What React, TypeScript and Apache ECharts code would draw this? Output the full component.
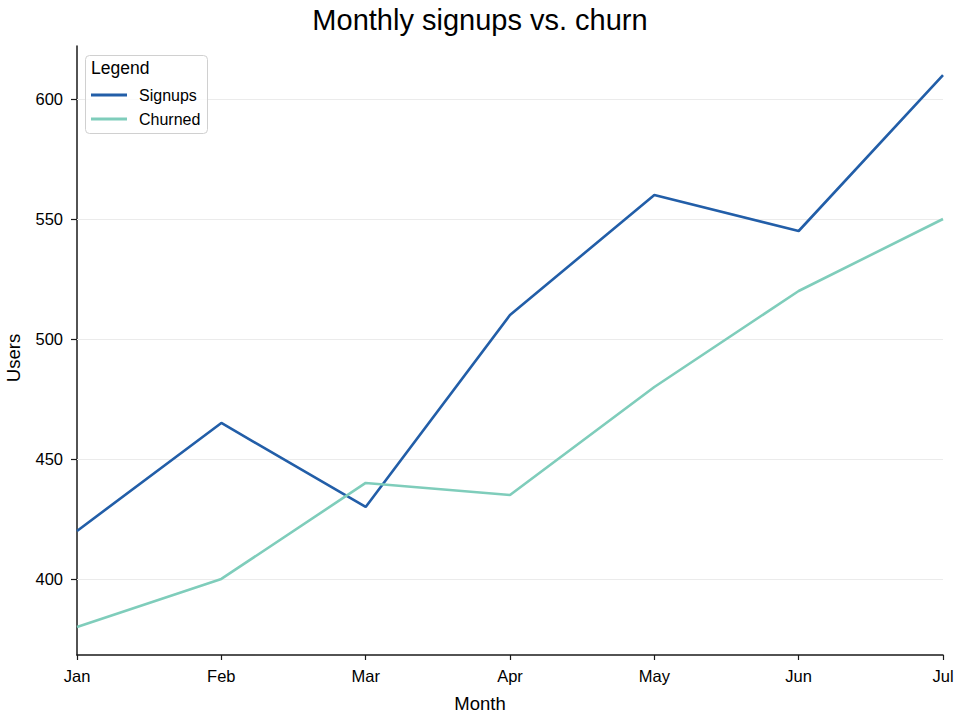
import { useEffect, useRef } from "react";
import * as echarts from "echarts";

const months = ["Jan", "Feb", "Mar", "Apr", "May", "Jun", "Jul"];
const signups = [420, 465, 430, 510, 560, 545, 610];
const churned = [380, 400, 440, 435, 480, 520, 550];
const yTicks = [400, 450, 500, 550, 600];

const FONT = "Liberation Sans, Arial, sans-serif";

export default function App() {
  const divRef = useRef<HTMLDivElement>(null);

  useEffect(() => {
    if (!divRef.current) return;
    const chart = echarts.init(divRef.current, undefined, { renderer: "svg" });

    const axisColor = "#1a1a1a";

    chart.setOption({
      animation: false,
      backgroundColor: "#ffffff",
      textStyle: { fontFamily: FONT },
      title: {
        text: "Monthly signups vs. churn",
        left: "center",
        top: 0,
        textStyle: { fontFamily: FONT, fontSize: 29, fontWeight: "normal", color: "#000" },
      },
      grid: { left: 77, right: 17, top: 46, bottom: 65, containLabel: false },
      legend: {
        orient: "vertical",
        left: 91,
        top: 87,
        padding: 0,
        z: 10,
        icon: "rect",
        itemWidth: 36,
        itemHeight: 3,
        itemGap: 8,
        data: ["Signups", "Churned"],
        textStyle: { fontFamily: FONT, fontSize: 16, color: "#000", lineHeight: 16, padding: [0, 0, 0, 7] },
      },
      xAxis: {
        type: "category",
        data: months,
        boundaryGap: false,
        axisLine: { lineStyle: { color: axisColor, width: 1.5 } },
        axisTick: { show: true, length: 5, alignWithLabel: true, lineStyle: { color: axisColor, width: 1.2 } },
        axisLabel: { fontFamily: FONT, fontSize: 16.5, color: "#000", margin: 12 },
        splitLine: { show: false },
      },
      yAxis: {
        type: "value",
        min: 368.3,
        max: 622.1,
        axisLine: { show: true, lineStyle: { color: axisColor, width: 1.5 } },
        axisTick: { show: true, length: 6, customValues: yTicks, lineStyle: { color: axisColor, width: 1.2 } },
        axisLabel: { fontFamily: FONT, fontSize: 16.5, color: "#000", margin: 14, customValues: yTicks },
        splitLine: { show: false },
      },
      series: [
        {
          name: "Signups",
          type: "line",
          data: signups,
          symbol: "none",
          color: "#225ea8",
          lineStyle: { width: 2.6, color: "#225ea8" },
          z: 3,
          markLine: {
            silent: true,
            symbol: "none",
            label: { show: false },
            lineStyle: { color: "#ebebeb", width: 1, type: "solid" },
            data: yTicks.map((v) => ({ yAxis: v })),
            z: 1,
          },
        },
        {
          name: "Churned",
          type: "line",
          data: churned,
          symbol: "none",
          color: "#7fcdbb",
          lineStyle: { width: 2.6, color: "#7fcdbb" },
          z: 4,
        },
      ],
      graphic: [
        {
          type: "rect",
          left: 85,
          top: 55,
          shape: { width: 122, height: 78, r: 4 },
          style: { fill: "rgba(255,255,255,0.8)", stroke: "#d0d0d0", lineWidth: 1 },
          z: 5,
        },
        {
          type: "text",
          left: 91,
          top: 59,
          style: { text: "Legend", fontFamily: FONT, fontSize: 17.5, fill: "#000" },
          z: 6,
        },
        {
          type: "text",
          x: 480,
          y: 703,
          style: {
            text: "Month",
            fontFamily: FONT,
            fontSize: 18.5,
            fill: "#000",
            align: "center",
            verticalAlign: "middle",
          },
        },
        {
          type: "text",
          x: 13,
          y: 358,
          rotation: Math.PI / 2,
          style: {
            text: "Users",
            fontFamily: FONT,
            fontSize: 18.5,
            fill: "#000",
            align: "center",
            verticalAlign: "middle",
          },
        },
      ],
    });

    return () => {
      chart.dispose();
    };
  }, []);

  return (
    <div
      ref={divRef}
      style={{ position: "absolute", left: 0, top: 0, width: 960, height: 720 }}
    />
  );
}
